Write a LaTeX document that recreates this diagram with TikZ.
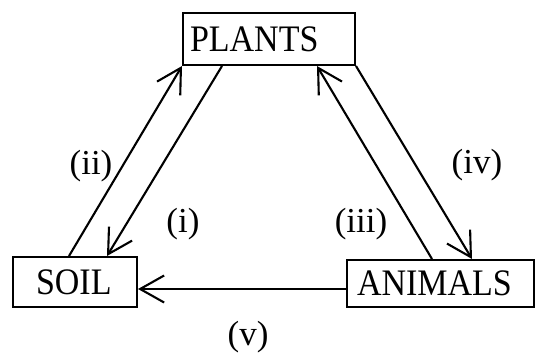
\documentclass[tikz,border=0pt]{standalone}
\usepackage{fontspec}
\setmainfont{Liberation Serif}
\usetikzlibrary{arrows.meta}
\begin{document}
\begin{tikzpicture}[x=1pt,y=-1pt,
  box/.style={draw,line width=2pt,inner ysep=0pt,align=left,
    font=\fontsize{34}{40}\selectfont},
  lbl/.style={inner sep=0pt,font=\fontsize{35}{40}\selectfont},
  flow/.style={line width=2.1pt,-{Straight Barb[length=24pt,width=27pt,line width=2.1pt]}}]
\useasboundingbox (0,0) rectangle (535,357);
\node[box,inner xsep=7pt,text width=158pt,minimum height=52pt] (plants) at (269,39) {\scalebox{1}[1.1]{PLANTS}};
\node[box,inner xsep=23pt,text width=78pt,minimum height=50pt] (soil) at (75,282) {\scalebox{1}[1.1]{SOIL}};
\node[box,inner xsep=10pt,text width=167pt,minimum height=47pt] (animals) at (440.5,283.5) {\scalebox{1}[1.1]{ANIMALS}};
\draw[flow] ([xshift=57pt]soil.north west) -- (plants.south west);
\draw[flow] ([xshift=40pt]plants.south west) -- ([xshift=95pt]soil.north west);
\draw[flow] ([xshift=86pt]animals.north west) -- ([xshift=135pt]plants.south west);
\draw[flow] (plants.south east) -- ([xshift=126pt]animals.north west);
\draw[flow] ([yshift=-30pt]animals.north west) -- ([yshift=-33pt]soil.north east);
\node[lbl] (lii) at (91,166) {(ii)};
\node[lbl] (li) at (183,224) {(i)};
\node[lbl] (liii) at (361,224) {(iii)};
\node[lbl] (liv) at (477,165) {(iv)};
\node[lbl] (lv) at (248,337) {(v)};
\end{tikzpicture}
\end{document}
